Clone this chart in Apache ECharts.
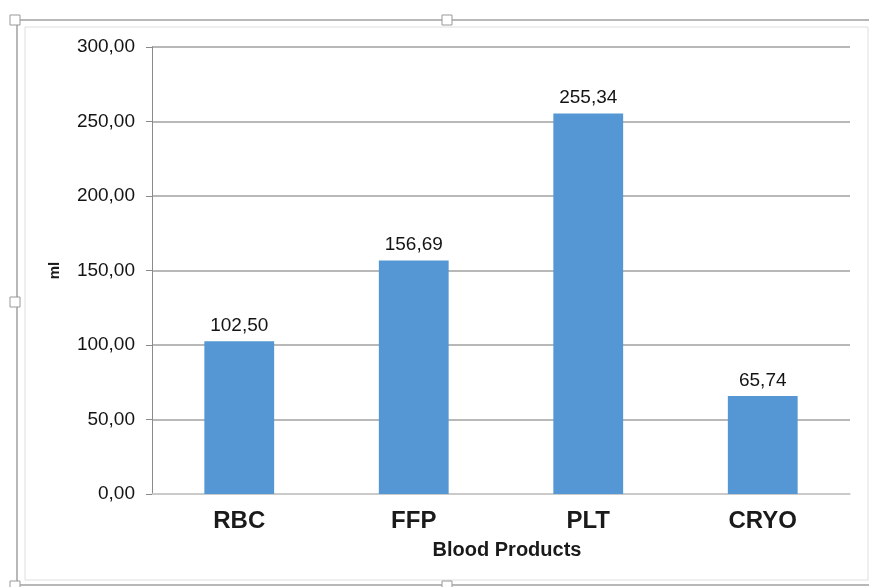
<!DOCTYPE html>
<html>
<head>
<meta charset="utf-8">
<script src="https://cdn.jsdelivr.net/npm/echarts@6/dist/echarts.min.js"></script>
<style>
  html, body { margin: 0; padding: 0; background: #ffffff; }
  #chart { width: 869px; height: 587px; }
</style>
</head>
<body>
<div id="chart"></div>
<script>
// Blood product volumes (ml)
const categories = ['RBC', 'FFP', 'PLT', 'CRYO'];
const volumes = [102.50, 156.69, 255.34, 65.74];
const yTicks = [0, 50, 100, 150, 200, 250, 300];

const fmt = v => v.toFixed(2).replace('.', ',');
const FONT = 'Liberation Sans, Arial, Helvetica, sans-serif';

const chart = echarts.init(document.getElementById('chart'), null, { renderer: 'canvas' });

// Frame with selection handles around the chart object
const frameColor = '#b8b8b8';
const handle = (x, y) => ({
  type: 'rect', shape: { x: x - 5, y: y - 5, width: 10, height: 10 },
  style: { fill: '#ffffff', stroke: '#999999', lineWidth: 1 }, z: 10
});

chart.setOption({
  animation: false,
  backgroundColor: '#ffffff',
  grid: { left: 152, right: 19, top: 47, bottom: 93, containLabel: false },
  xAxis: {
    type: 'category',
    data: categories,
    name: 'Blood Products',
    nameLocation: 'middle',
    nameGap: 46,
    nameTextStyle: { fontFamily: FONT, fontSize: 20, fontWeight: 'bold', color: '#1a1a1a', padding: [0, 0, 0, 12] },
    axisLine: { show: true, lineStyle: { color: '#d0d0d0', width: 1.5 } },
    axisTick: { show: false },
    axisLabel: { fontFamily: FONT, fontSize: 24, fontWeight: 'bold', color: '#1a1a1a', margin: 15 }
  },
  yAxis: {
    type: 'value',
    min: yTicks[0],
    max: yTicks[yTicks.length - 1],
    interval: 50,
    name: 'ml',
    nameLocation: 'middle',
    nameGap: 90,
    nameRotate: 90,
    nameTextStyle: { fontFamily: FONT, fontSize: 15, fontWeight: 'bold', color: '#1a1a1a' },
    axisLine: { show: true, lineStyle: { color: '#8a8a8a', width: 1 } },
    axisTick: { show: true, inside: false, length: 6, lineStyle: { color: '#8a8a8a' } },
    axisLabel: { fontFamily: FONT, fontSize: 19, color: '#141414', margin: 17, formatter: v => fmt(v) },
    splitLine: { show: true, lineStyle: { color: '#a0a0a0', width: 1.5 } }
  },
  series: [{
    type: 'bar',
    data: volumes,
    barWidth: '40%',
    itemStyle: { color: '#5597d4' },
    label: {
      show: true,
      position: 'top',
      distance: 6,
      fontFamily: FONT,
      fontSize: 19,
      color: '#141414',
      formatter: p => fmt(p.value)
    }
  }],
  graphic: [
    // outer frame
    { type: 'line', shape: { x1: 17, y1: 20, x2: 869, y2: 20 }, style: { stroke: frameColor, lineWidth: 2 } },
    { type: 'line', shape: { x1: 17, y1: 20, x2: 17, y2: 587 }, style: { stroke: frameColor, lineWidth: 2 } },
    { type: 'line', shape: { x1: 17, y1: 585, x2: 869, y2: 585 }, style: { stroke: frameColor, lineWidth: 2 } },
    // inner chart border
    { type: 'rect', shape: { x: 25, y: 27, width: 843, height: 553 },
      style: { fill: null, stroke: '#dedede', lineWidth: 1 } },
    handle(15, 20), handle(447, 20), handle(15, 302), handle(15, 586), handle(447, 586)
  ]
});
</script>
</body>
</html>
